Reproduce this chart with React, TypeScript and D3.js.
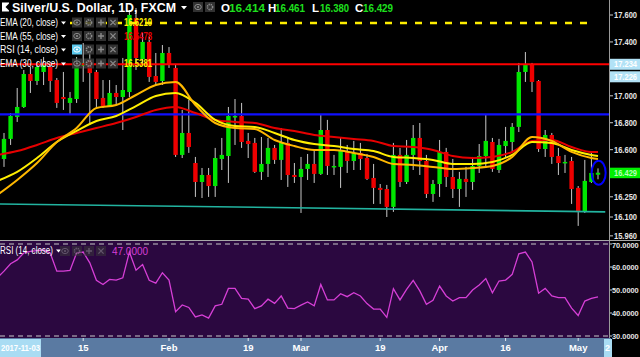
import React from 'react';
import * as d3 from 'd3';

// ---- OHLC (daily candles) ----
const opens = [16.360,16.531,16.680,16.843,16.917,17.162,17.110,17.177,17.214,17.117,16.991,16.947,16.976,17.222,17.266,17.177,16.984,16.924,17.021,16.991,17.028,17.578,17.273,17.400,17.147,17.110,17.318,17.207,16.561,16.724,16.501,16.360,16.412,16.330,16.531,16.553,16.843,16.850,16.665,16.650,16.435,16.494,16.613,16.524,16.650,16.412,16.397,16.457,16.494,16.420,16.746,16.472,16.472,16.590,16.516,16.576,16.538,16.390,16.316,16.308,16.175,16.561,16.360,16.561,16.687,16.516,16.271,16.345,16.583,16.397,16.308,16.383,16.360,16.479,16.553,16.657,16.449,16.627,16.657,16.769,17.177,17.229,17.110,16.605,16.709,16.553,16.501,16.516,16.316,16.138,16.360,16.414];
const highs = [16.546,16.724,16.872,17.058,17.192,17.214,17.251,17.288,17.251,17.132,17.177,17.028,17.288,17.392,17.318,17.192,17.117,17.117,17.080,17.281,17.637,17.652,17.466,17.437,17.318,17.377,17.362,17.229,16.895,16.969,16.546,16.464,16.464,16.613,16.687,16.917,16.976,16.947,16.724,16.687,16.694,16.687,16.635,16.761,16.694,16.501,16.546,16.568,16.598,16.858,16.821,16.561,16.687,16.635,16.665,16.650,16.568,16.494,16.345,16.338,16.650,16.613,16.672,16.783,16.798,16.561,16.375,16.672,16.613,16.531,16.435,16.472,16.546,16.642,16.865,16.687,16.680,16.769,16.798,17.244,17.325,17.244,17.117,16.746,16.724,16.613,16.561,16.546,16.330,16.524,16.576,16.461];
const lows = [16.286,16.472,16.635,16.806,16.910,17.021,17.080,17.080,17.028,16.910,16.895,16.858,16.947,17.103,16.783,16.917,16.910,16.917,16.939,16.746,16.991,17.192,17.244,17.103,17.073,17.080,17.207,16.546,16.538,16.576,16.249,16.241,16.249,16.249,16.449,16.353,16.635,16.613,16.538,16.427,16.375,16.397,16.494,16.375,16.323,16.353,16.130,16.375,16.353,16.412,16.412,16.412,16.316,16.427,16.449,16.449,16.375,16.197,16.197,16.100,16.138,16.323,16.345,16.449,16.412,16.241,16.212,16.249,16.323,16.241,16.175,16.249,16.301,16.427,16.464,16.435,16.427,16.538,16.576,16.731,17.103,17.028,16.583,16.546,16.494,16.412,16.427,16.197,16.034,16.130,16.353,16.380];
const closes = [16.524,16.680,16.850,16.917,17.162,17.110,17.214,17.236,17.110,16.947,16.976,16.984,17.244,17.244,17.169,16.976,16.924,17.021,16.991,17.043,17.600,17.281,17.400,17.140,17.103,17.318,17.229,16.561,16.724,16.620,16.360,16.412,16.330,16.538,16.561,16.850,16.850,16.657,16.642,16.435,16.494,16.613,16.524,16.650,16.412,16.397,16.457,16.494,16.420,16.746,16.479,16.479,16.590,16.516,16.576,16.531,16.383,16.316,16.301,16.175,16.561,16.360,16.561,16.687,16.516,16.271,16.345,16.583,16.397,16.308,16.383,16.360,16.479,16.553,16.665,16.457,16.635,16.665,16.769,17.177,17.229,17.103,16.605,16.709,16.546,16.501,16.509,16.308,16.138,16.368,16.427,16.429];

// ---- EMA lines, read at every 3rd candle ----
const emaIdx = [0,3,6,9,12,15,18,21,24,27,30,33,36,39,42,45,48,51,54,57,60,63,66,69,72,75,78,81,84,87,90,91];
const ema20 = [16.264,16.375,16.501,16.657,16.761,16.910,16.932,17.006,17.080,17.103,16.932,16.798,16.761,16.754,16.672,16.627,16.598,16.598,16.576,16.546,16.494,16.487,16.472,16.457,16.464,16.479,16.546,16.694,16.665,16.583,16.538,16.531];
const ema30 = [16.368,16.435,16.538,16.657,16.739,16.813,16.850,16.924,16.999,17.021,16.947,16.821,16.776,16.769,16.724,16.672,16.642,16.627,16.605,16.590,16.546,16.538,16.524,16.494,16.494,16.509,16.561,16.657,16.650,16.598,16.561,16.553];
const ema55 = [16.561,16.590,16.635,16.687,16.724,16.761,16.798,16.843,16.895,16.917,16.872,16.821,16.806,16.798,16.761,16.739,16.709,16.694,16.680,16.665,16.627,16.620,16.598,16.553,16.538,16.546,16.583,16.665,16.672,16.620,16.583,16.583];

// ---- RSI(14) per candle ----
const rsi = [55.3,58.2,61.4,63.1,66.1,66.8,67.1,67.4,66.1,58.2,58.2,58.5,66.1,66.5,61.8,54.2,52.4,54.6,54.3,55.3,66.5,58.6,61.1,54.2,53.0,57.5,54.3,40.6,43.5,42.4,38.3,39.2,37.8,43.1,43.8,50.7,50.7,46.4,46.0,41.9,43.1,46.0,44.2,47.4,42.1,41.9,43.4,44.8,43.1,52.4,45.7,45.7,48.4,47.1,48.8,47.4,44.1,41.7,41.7,38.1,50.6,45.7,50.3,54.2,49.6,43.8,45.5,51.7,47.4,45.2,46.7,46.7,50.0,52.2,55.0,48.8,53.9,54.3,56.8,65.7,66.5,62.2,48.6,50.7,47.4,46.7,46.7,42.1,38.9,45.2,46.4,47.0];

// ---- axes ----
const priceTicks = [17.6,17.4,17.0,16.8,16.6,16.25,16.1,15.96];
const rsiTicks = [70,60,50,40,30];
const dateTickIdx = [13,26,38,46,58,67,77,88];
const dateTickLabels = ['15','Feb','19','Mar','19','Apr','16','May'];

// ---- drawn levels ----
const redLevel = 17.234;
const blueLevel = 16.862;
const yellowDashLevel = 17.541;
const trendStart = 16.197;
const trendEnd = 16.138;

const FONT = 'Liberation Sans, Arial, sans-serif';

function Icons({ x, y, n, hi }: { x: number; y: number; n: number; hi?: boolean }) {
  return (
    <g>
      {d3.range(n).map((k) => {
        const x0 = x + k * 12;
        const cx = x0 + 5, cy = y;
        const on = hi && k === 0;
        const c = on ? '#ffffff' : '#8a8a8a';
        let glyph: any = null;
        if (k === 0) glyph = (<g><ellipse cx={cx} cy={cy} rx={3.3} ry={2.6} fill="none" stroke={c} strokeWidth={1} /><circle cx={cx} cy={cy} r={1.1} fill={c} /></g>);
        else if (k === 1) glyph = (<circle cx={cx} cy={cy} r={2.6} fill="none" stroke={c} strokeWidth={1.6} strokeDasharray="1.3 0.8" />);
        else if (k === 2) glyph = (<path d={`M${cx - 3},${cy}H${cx + 3}M${cx},${cy - 3}V${cy + 3}`} stroke={c} strokeWidth={1.4} />);
        else glyph = (<path d={`M${cx - 2.6},${cy - 2.6}L${cx + 2.6},${cy + 2.6}M${cx + 2.6},${cy - 2.6}L${cx - 2.6},${cy + 2.6}`} stroke={c} strokeWidth={1.3} />);
        return (
          <g key={k}>
            <rect x={x0} y={y - 5} width={10} height={10} fill={on ? '#5ac8ec' : '#3a3a3a'} opacity={on ? 1 : 0.85} />
            {glyph}
          </g>
        );
      })}
    </g>
  );
}

export default function App() {
  const PR = 609; // right edge of panes
  const MB = 240; // main pane bottom
  const RT = 241, RB = 338; // rsi pane
  const N = closes.length;

  const x = d3.scaleLinear().domain([0, N - 1]).range([-2.6, 598]);
  const yP = d3.scaleLinear().domain([16.1, 17.6]).range([217, 15]);
  const yR = d3.scaleLinear().domain([30, 70]).range([336, 244]);

  const emaLine = (arr: number[]) =>
    d3.line<number>().x((_, k) => x(emaIdx[k])).y((v) => yP(v)).curve(d3.curveMonotoneX)(arr) || '';
  const rsiLine = d3.line<number>().x((_, i) => x(i)).y((v) => yR(v))(rsi) || '';

  const bw = 4.4;
  const fmt3 = d3.format('.3f');
  const fmt4 = d3.format('.4f');

  const legendRows = [
    { name: 'EMA (20, close)', val: '16.6219', col: '#ffee00', y: 22.5, hi: false },
    { name: 'EMA (55, close)', val: '16.6478', col: '#e80000', y: 36, hi: false },
    { name: 'RSI (14, close)', val: '', col: '#fff', y: 49.5, hi: true },
    { name: 'EMA (30, close)', val: '16.5381', col: '#ffee00', y: 63.5, hi: false },
  ];

  return (
    <svg width={640} height={357} style={{ position: 'absolute', left: 0, top: 0, background: '#000' }} fontFamily={FONT}>
      <defs>
        <clipPath id="mainClip"><rect x={0} y={0} width={PR} height={MB} /></clipPath>
        <clipPath id="rsiClip"><rect x={0} y={RT} width={PR} height={RB - RT} /></clipPath>
        <clipPath id="pAxClip"><rect x={PR} y={0} width={640 - PR} height={MB} /></clipPath>
      </defs>
      <rect x={0} y={0} width={640} height={357} fill="#000" />

      {/* ---- main pane ---- */}
      <g clipPath="url(#mainClip)">
        {closes.map((c, i) => {
          const up = c >= opens[i];
          const top = yP(Math.max(c, opens[i]));
          const bot = yP(Math.min(c, opens[i]));
          return (
            <g key={i}>
              <line x1={x(i)} x2={x(i)} y1={yP(highs[i])} y2={yP(lows[i])} stroke="#c8c8c8" strokeWidth={1} />
              <rect x={x(i) - bw / 2} y={top} width={bw} height={Math.max(1.5, bot - top)} fill={up ? '#00e600' : '#ee0000'} />
            </g>
          );
        })}
        <line x1={0} x2={PR} y1={yP(redLevel)} y2={yP(redLevel)} stroke="#ff0000" strokeWidth={2} />
        <line x1={0} x2={PR} y1={yP(blueLevel)} y2={yP(blueLevel)} stroke="#1010ff" strokeWidth={2.2} />
        <line x1={x(11)} x2={x(89.8)} y1={yP(yellowDashLevel)} y2={yP(yellowDashLevel)} stroke="#ffee00" strokeWidth={2.5} strokeDasharray="7 8" />
        <line x1={x(0)} x2={x(92.1)} y1={yP(trendStart)} y2={yP(trendEnd)} stroke="#22b4a0" strokeWidth={1.6} />
        <path d={emaLine(ema55)} fill="none" stroke="#e60000" strokeWidth={2} />
        <path d={emaLine(ema30)} fill="none" stroke="#ffee00" strokeWidth={2} />
        <path d={emaLine(ema20)} fill="none" stroke="#ffb800" strokeWidth={2} />
        <ellipse cx={x(91.1)} cy={yP(closes[N - 1])} rx={7} ry={12} fill="none" stroke="#0000ff" strokeWidth={2} />
      </g>

      {/* ---- legend (main) ---- */}
      <g>
        <rect x={2} y={2.5} width={7} height={9} fill="#fff" />
        <path d="M5.5,7 L9,3.5 L9,10.5 Z" fill="#000" />
        <text x={12} y={11.5} fontSize={12} fontWeight="bold" fill="#fff" textLength={164} lengthAdjust="spacingAndGlyphs">Silver/U.S. Dollar, 1D, FXCM</text>
        <path d="M181,6 L187,6 L184,9.5 Z" fill="#fff" />
        <Icons x={193} y={7} n={2} />
        <text x={221} y={11.5} fontSize={11.5} fontWeight="bold" fill="#fff">O</text>
        <text x={229} y={11.5} fontSize={11.5} fontWeight="bold" fill="#1ee01e" textLength={36} lengthAdjust="spacingAndGlyphs">16.414</text>
        <text x={268} y={11.5} fontSize={11.5} fontWeight="bold" fill="#fff">H</text>
        <text x={275} y={11.5} fontSize={11.5} fontWeight="bold" fill="#1ee01e" textLength={30} lengthAdjust="spacingAndGlyphs">16.461</text>
        <text x={312} y={11.5} fontSize={11.5} fontWeight="bold" fill="#fff">L</text>
        <text x={320} y={11.5} fontSize={11.5} fontWeight="bold" fill="#1ee01e" textLength={29} lengthAdjust="spacingAndGlyphs">16.380</text>
        <text x={355} y={11.5} fontSize={11.5} fontWeight="bold" fill="#fff">C</text>
        <text x={363} y={11.5} fontSize={11.5} fontWeight="bold" fill="#1ee01e" textLength={30} lengthAdjust="spacingAndGlyphs">16.429</text>
        {legendRows.map((r) => (
          <g key={r.name}>
            <text x={0} y={r.y + 3.5} fontSize={10} fill="#fff" textLength={58} lengthAdjust="spacingAndGlyphs">{r.name}</text>
            <path d={`M61,${r.y - 1} L66,${r.y - 1} L63.5,${r.y + 2} Z`} fill="#fff" />
            <Icons x={72} y={r.y} n={4} hi={r.hi} />
            {r.val && (
              <text x={124} y={r.y + 3.8} fontSize={10.5} fontWeight="bold" fill={r.col} textLength={28} lengthAdjust="spacingAndGlyphs">{r.val}</text>
            )}
          </g>
        ))}
      </g>

      {/* ---- price axis ---- */}
      <line x1={PR + 0.5} x2={PR + 0.5} y1={0} y2={342} stroke="#9a9a9a" strokeWidth={1} />
      <g clipPath="url(#pAxClip)">
        {priceTicks.map((t) => (
          <g key={t}>
            <line x1={PR + 1} x2={PR + 4} y1={yP(t)} y2={yP(t)} stroke="#ccc" />
            <text x={614} y={yP(t)} dy="0.35em" fontSize={8.5} fill="#e6e6e6" fontWeight="bold" textLength={23} lengthAdjust="spacingAndGlyphs">{fmt3(t)}</text>
          </g>
        ))}
      </g>
      <rect x={PR + 1} y={yP(redLevel) - 5.5} width={31} height={11} fill="#b2e2f6" />
      <text x={614} y={yP(redLevel)} dy="0.35em" fontSize={8.5} fill="#fff" fontWeight="bold" textLength={23} lengthAdjust="spacingAndGlyphs">17.234</text>
      <rect x={PR + 1} y={yP(redLevel) + 7} width={31} height={11} fill="#b2e2f6" />
      <text x={614} y={yP(redLevel) + 12.5} dy="0.35em" fontSize={8.5} fill="#fff" fontWeight="bold" textLength={23} lengthAdjust="spacingAndGlyphs">17.226</text>
      <rect x={PR + 1} y={yP(closes[N - 1]) - 5} width={31} height={10.5} fill="#00f000" />
      <text x={614} y={yP(closes[N - 1])} dy="0.35em" fontSize={8.5} fill="#b8ffb8" fontWeight="bold" textLength={23} lengthAdjust="spacingAndGlyphs">{fmt3(closes[N - 1])}</text>

      {/* ---- separator ---- */}
      <line x1={0} x2={640} y1={240.5} y2={240.5} stroke="#a8a8a8" strokeWidth={1} />

      {/* ---- RSI pane ---- */}
      <rect x={0} y={RT} width={PR} height={RB - RT} fill="#2b0840" />
      <g clipPath="url(#rsiClip)">
        <line x1={0} x2={PR} y1={yR(70)} y2={yR(70)} stroke="#c8c8c8" strokeWidth={1.2} strokeDasharray="5 4" />
        <line x1={0} x2={PR} y1={yR(30)} y2={yR(30)} stroke="#c8c8c8" strokeWidth={1.2} strokeDasharray="5 4" />
        <path d={rsiLine} fill="none" stroke="#d63fd6" strokeWidth={1.3} />
      </g>
      <text x={0} y={254} fontSize={10} fill="#fff" textLength={53} lengthAdjust="spacingAndGlyphs">RSI (14, close)</text>
      <path d="M56,249.5 L61,249.5 L58.5,252.5 Z" fill="#fff" />
      <g opacity={0.6}><Icons x={60} y={251} n={4} /></g>
      <text x={112} y={254.5} fontSize={10.5} fill="#d63fd6" textLength={36} lengthAdjust="spacingAndGlyphs">{fmt4(rsi[N - 1])}</text>
      {rsiTicks.map((t) => (
        <g key={t}>
          <line x1={PR + 1} x2={PR + 3} y1={yR(t)} y2={yR(t)} stroke="#ccc" />
          <text x={612} y={yR(t) + (t === 70 ? 1.5 : 0)} dy="0.35em" fontSize={7.4} fill="#e6e6e6" fontWeight="bold">{fmt4(t)}</text>
        </g>
      ))}

      {/* ---- date axis ---- */}
      <rect x={0} y={RB} width={611} height={357 - RB} fill="#5a7aa2" />
      {dateTickIdx.map((d, k) => (
        <g key={k}>
          <line x1={x(d)} x2={x(d)} y1={RB} y2={RB + 3} stroke="#dfe6ee" />
          <text x={x(d)} y={351} textAnchor="middle" fontSize={9.5} fontWeight="bold" fill="#fff">{dateTickLabels[k]}</text>
        </g>
      ))}
      <rect x={0} y={RB + 1} width={41} height={357 - RB - 1} fill="#a9dcf3" />
      <text x={20.5} y={351} textAnchor="middle" fontSize={9} fontWeight="bold" fill="#fff" textLength={39} lengthAdjust="spacingAndGlyphs">2017-11-03</text>
      <rect x={604} y={RB + 1} width={8} height={357 - RB - 1} fill="#a9dcf3" />
      <text x={605} y={351} fontSize={9} fontWeight="bold" fill="#fff">2</text>
    </svg>
  );
}
